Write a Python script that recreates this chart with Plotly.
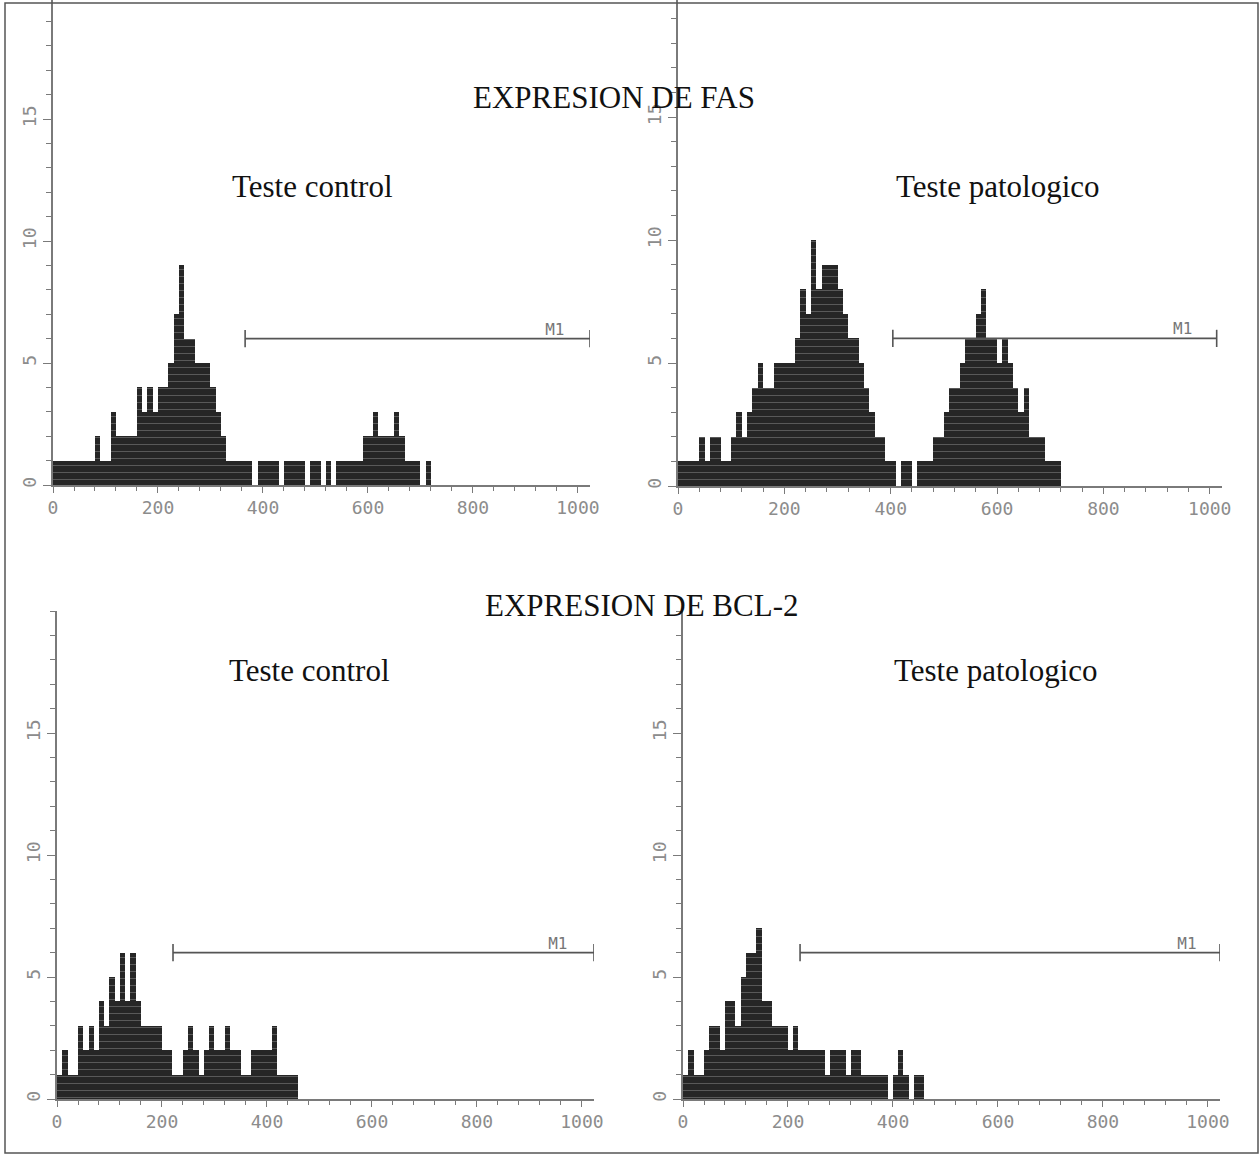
import plotly.graph_objects as go

# ---------------- data (counts per 10-channel bin, channels 0..1023) ----------------
BIN_WIDTH = 10

fas_control = [1, 1, 1, 1, 1, 1, 1, 1, 2, 1,
               1, 3, 2, 2, 2, 2, 4, 3, 4, 3,
               4, 4, 5, 7, 9, 6, 6, 5, 5, 5,
               4, 3, 2, 1, 1, 1, 1, 1, 0, 1,
               1, 1, 1, 0, 1, 1, 1, 1, 0, 1,
               1, 0, 1, 0, 1, 1, 1, 1, 1, 2,
               2, 3, 2, 2, 2, 3, 2, 1, 1, 1,
               0, 1]

fas_pathologic = [1, 1, 1, 1, 2, 1, 2, 2, 1, 1,
                  2, 3, 2, 3, 4, 5, 4, 4, 5, 5,
                  5, 5, 6, 8, 7, 10, 8, 9, 9, 9,
                  8, 7, 6, 6, 5, 4, 3, 2, 2, 1,
                  1, 0, 1, 1, 0, 1, 1, 1, 2, 2,
                  3, 4, 4, 5, 6, 6, 7, 8, 6, 6,
                  5, 6, 5, 4, 3, 4, 2, 2, 2, 1,
                  1, 1]

bcl2_control = [1, 2, 1, 1, 3, 2, 3, 2, 4, 3,
                5, 4, 6, 4, 6, 4, 3, 3, 3, 3,
                2, 2, 1, 1, 2, 3, 2, 1, 2, 3,
                2, 2, 3, 2, 2, 1, 1, 2, 2, 2,
                2, 3, 1, 1, 1, 1]

bcl2_pathologic = [1, 2, 1, 1, 2, 3, 3, 2, 4, 4,
                   3, 5, 6, 6, 7, 4, 4, 3, 3, 3,
                   2, 3, 2, 2, 2, 2, 2, 1, 2, 2,
                   2, 1, 2, 2, 1, 1, 1, 1, 1, 0,
                   1, 2, 1, 0, 1, 1]

# M1 marker gates: [start channel, end channel], level (counts), label channel
m1_start = [366, 404, 221, 223]
m1_end = [1023, 1013, 1023, 1023]
m1_level = [6, 6, 6, 6]
m1_label_ch = [956, 949, 954, 960]

x_ticks = [0, 200, 400, 600, 800, 1000]
y_ticks = [0, 5, 10, 15]

main_titles = ["EXPRESION DE FAS", "EXPRESION DE BCL-2"]
panel_titles = ["Teste control", "Teste patologico", "Teste control", "Teste patologico"]

series = [fas_control, fas_pathologic, bcl2_control, bcl2_pathologic]

# ---------------- layout geometry (pixels in a 1260x1156 canvas) ----------------
W, H = 1260, 1156
# (x0 px, x1023 px, y0 px, top px, y range max)
panels = [
    (53, 590, 485, 0, 485 / 24.4),
    (678, 1222, 486, 0, 486 / 24.6),
    (57, 594, 1099, 611, 488 / 24.4),
    (683, 1220, 1099, 611, 488 / 24.4),
]

fig = go.Figure()

AX_COLOR = "#7a7a7a"
LBL_COLOR = "#8c8c8c"
BAR_COLOR = "#262626"
tick_font = dict(family="DejaVu Sans Mono", size=18, color=LBL_COLOR)

layout_axes = {}
for i, (counts, geom) in enumerate(zip(series, panels)):
    n = i + 1
    xa = "x" if n == 1 else f"x{n}"
    ya = "y" if n == 1 else f"y{n}"
    xk = "xaxis" if n == 1 else f"xaxis{n}"
    yk = "yaxis" if n == 1 else f"yaxis{n}"
    x0p, x1p, y0p, ytop, ymax = geom

    centers = [BIN_WIDTH * k + BIN_WIDTH / 2 for k in range(len(counts))]
    fig.add_trace(go.Bar(
        x=centers, y=counts, width=BIN_WIDTH, xaxis=xa, yaxis=ya,
        marker=dict(color=BAR_COLOR, line=dict(width=0),
                    pattern=dict(shape="-", fgcolor="#8f8f8f", bgcolor=BAR_COLOR,
                                 size=7, solidity=0.14)),
        showlegend=False, hoverinfo="skip",
    ))

    # M1 gate
    s, e, lv = m1_start[i], m1_end[i], m1_level[i]
    cap = 0.35
    fig.add_trace(go.Scatter(
        x=[s, e, None, s, s, None, e, e],
        y=[lv, lv, None, lv - cap, lv + cap, None, lv - cap, lv + cap],
        mode="lines", line=dict(color="#555555", width=1.6),
        xaxis=xa, yaxis=ya, showlegend=False, hoverinfo="skip",
    ))
    fig.add_trace(go.Scatter(
        x=[m1_label_ch[i]], y=[lv], mode="text", text=["M1"],
        textposition="top center",
        textfont=dict(family="DejaVu Sans Mono", size=16, color="#777777"),
        xaxis=xa, yaxis=ya, showlegend=False, hoverinfo="skip",
    ))

    layout_axes[xk] = dict(
        domain=[x0p / W, x1p / W], range=[0, 1023], anchor=ya, automargin=False,
        tickmode="array", tickvals=x_ticks, ticktext=[str(t) for t in x_ticks],
        ticks="outside", ticklen=6, tickwidth=1.2, tickcolor=AX_COLOR,
        minor=dict(dtick=40, tick0=0, ticks="outside", ticklen=4, tickcolor=AX_COLOR),
        showline=True, linecolor=AX_COLOR, linewidth=1.5,
        showgrid=False, zeroline=False, tickfont=tick_font, fixedrange=True,
    )
    layout_axes[yk] = dict(
        domain=[(H - y0p) / H, (H - ytop) / H], range=[0, ymax], anchor=xa,
        automargin=False,
        tickmode="array", tickvals=y_ticks, ticktext=[str(t) for t in y_ticks],
        tickangle=-90,
        ticks="outside", ticklen=8, tickwidth=1.2, tickcolor=AX_COLOR,
        minor=dict(dtick=1, tick0=0, ticks="outside", ticklen=5, tickcolor=AX_COLOR),
        showline=True, linecolor=AX_COLOR, linewidth=1.5,
        showgrid=False, zeroline=False, tickfont=tick_font, fixedrange=True,
    )

title_font = dict(family="Liberation Serif", size=31, color="#111111")
annotations = [
    dict(text=main_titles[0], x=614 / W, y=1 - 98 / H),
    dict(text=panel_titles[0], x=312 / W, y=1 - 187 / H),
    dict(text=panel_titles[1], x=998 / W, y=1 - 187 / H),
    dict(text=main_titles[1], x=641 / W, y=1 - 605 / H),
    dict(text=panel_titles[2], x=309 / W, y=1 - 670 / H),
    dict(text=panel_titles[3], x=996 / W, y=1 - 670 / H),
]
for a in annotations:
    a.update(xref="paper", yref="paper", showarrow=False, font=title_font,
             xanchor="center", yanchor="middle")

fig.update_layout(
    width=W, height=H,
    margin=dict(l=0, r=0, t=0, b=0, pad=0, autoexpand=False),
    paper_bgcolor="white", plot_bgcolor="white",
    bargap=0,
    annotations=annotations,
    shapes=[dict(type="rect", xref="paper", yref="paper",
                 x0=5 / W, x1=1258 / W, y0=1 - 1153 / H, y1=1 - 3 / H,
                 line=dict(color="#555555", width=1.5))],
    **layout_axes,
)

fig.write_html(
    "out.html",
    config={"displayModeBar": False},
    post_script="document.body.style.margin='0';document.body.style.overflow='hidden';",
)
